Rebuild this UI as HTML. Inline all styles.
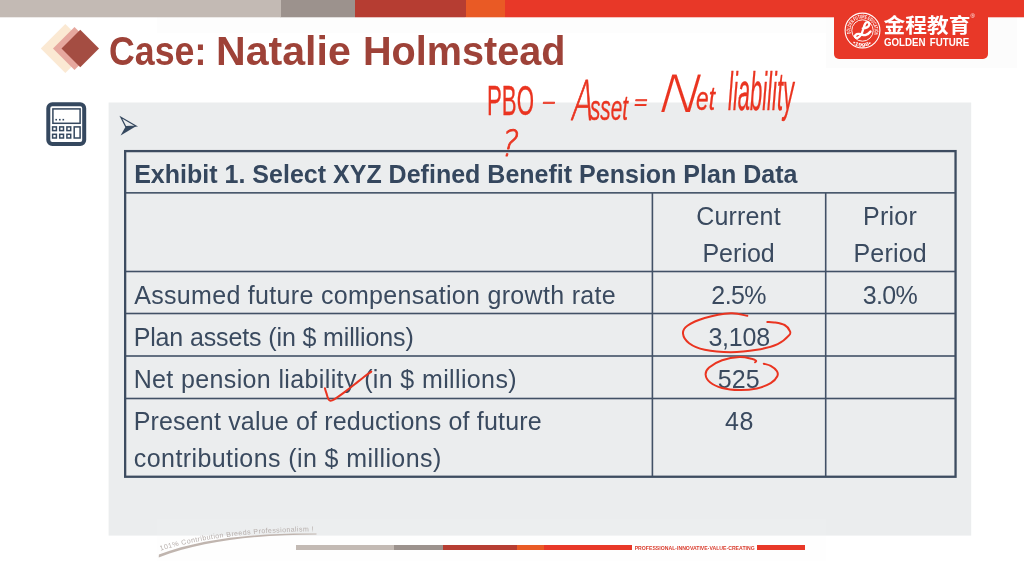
<!DOCTYPE html>
<html lang="en">
<head>
<meta charset="utf-8">
<title>Case: Natalie Holmstead</title>
<style>
*{margin:0;padding:0;box-sizing:border-box}
html,body{width:1024px;height:576px;overflow:hidden;background:#fff}
body{position:relative;font-family:"Liberation Sans","Noto Sans CJK SC",sans-serif;color:#3a4a5f}
.abs{position:absolute}
.bar{position:absolute;top:0;height:17px}
.hdrbg{position:absolute;left:157px;top:17px;width:860px;height:15.5px;background:#fdfdfd}
.hdrbg2{position:absolute;left:826px;top:17px;width:191px;height:51px;background:#fcfcfc}
.logo{position:absolute;left:834px;top:0;width:154px;height:58.5px;background:#e83828;border-radius:0 0 5px 5px}
.logo .cn{position:absolute;left:49.6px;top:13px;font-weight:bold;font-size:21.7px;line-height:26px;color:#fff;white-space:nowrap;transform:scaleY(.92);transform-origin:0 100%}
.logo .en{position:absolute;left:50.3px;top:37.1px;font-weight:bold;font-size:10.1px;line-height:11px;color:#fff;white-space:nowrap;word-spacing:1.6px;transform:scaleX(.963);transform-origin:0 0}
.logo .reg{position:absolute;left:136.6px;top:12.6px;font-size:6px;line-height:7px;color:#fff}
.title{position:absolute;left:0;top:28.7px;width:600px;height:46px;font-weight:bold;font-size:40.2px;line-height:46px;color:#9e4238;white-space:nowrap}
.title span{position:absolute;top:0;transform-origin:0 0;white-space:pre}
.t{position:absolute;font-size:25px;line-height:28px;white-space:nowrap;color:#3a4a5f}
.foot{position:absolute;left:157px;top:519px;width:669px;height:41.5px;background:rgba(250,250,250,.12)}
.fb{position:absolute;top:545.3px;height:4.9px}
</style>
</head>
<body>
<!-- top colour bar -->
<div class="bar" style="left:0;width:281px;background:#c3bab4"></div>
<div class="bar" style="left:280.5px;width:75px;background:#9c928d"></div>
<div class="bar" style="left:355px;width:111px;background:#b63d32"></div>
<div class="bar" style="left:465.5px;width:40px;background:#e95a25"></div>
<div class="bar" style="left:505px;width:519px;background:#e83828"></div>
<div class="hdrbg"></div><div class="hdrbg2"></div>
<div class="abs" style="left:0;top:17px;width:1024px;height:1px;opacity:.3;background:linear-gradient(90deg,#c3bab4 0 280.5px,#9c928d 280.5px 355px,#b63d32 355px 465.5px,#e95a25 465.5px 505px,#e83828 505px)"></div>

<!-- logo -->
<div class="logo">
  <svg class="abs" style="left:9px;top:10.6px" width="39" height="39" viewBox="-19.5 -19.5 39 39">
    <circle r="17.4" fill="none" stroke="#fff" stroke-width="1.1"/>
    <circle r="10.7" fill="none" stroke="#fff" stroke-width=".9"/>
    <path id="ringT" d="M-11.6 3.6A12.15 12.15 0 1 1 11.6 3.6" fill="none"/>
    <path id="ringB" d="M-10.2 12.7A16.3 16.3 0 0 0 10.2 12.7" fill="none"/>
    <text font-family="'Liberation Sans',sans-serif" font-weight="bold" font-size="5.2" fill="#fff"><textPath href="#ringT" textLength="45" lengthAdjust="spacingAndGlyphs" startOffset=".4">GOLDEN FUTURE EDUCATION</textPath></text>
    <text font-family="'Liberation Sans',sans-serif" font-weight="bold" font-size="5.2" fill="#fff"><textPath href="#ringB" textLength="20.5" lengthAdjust="spacingAndGlyphs">•1998•</textPath></text>
    <path d="M.3-2.2C3-2 6.6-3.6 6.8-6 7-8.6 4-9.2 2.6-6.6 1.2-4 .6.4-1.2 3.8-2.8 6.8-5.6 8.2-7 6.8-8.4 5.2-6.2 3-3.4 3.4-.6 3.8 1 5.2 3.4 4.4 5.4 3.8 7 2.4 8 1" fill="none" stroke="#fff" stroke-width="2.3" stroke-linecap="round" stroke-linejoin="round"/>
  </svg>
  <div class="cn">金程教育</div>
  <div class="reg">®</div>
  <div class="en">GOLDEN FUTURE</div>
</div>

<!-- title -->
<svg class="abs" style="left:38px;top:22px" width="64" height="54" viewBox="38 22 64 54">
  <polygon points="40.8,48.5 65.3,24 89.8,48.5 65.3,73" fill="#fbe9d3"/>
  <polygon points="53,48.5 74.5,27 96,48.5 74.5,70" fill="#e6a79e"/>
  <polygon points="61.5,48.5 80.25,29.8 99,48.5 80.25,67.2" fill="#a44d42"/>
</svg>
<div class="title"><span style="left:108.83px;transform:scaleX(.8888)">Case: </span><span style="left:216.35px;transform:scaleX(1.0223)">Natalie </span><span style="left:362.55px;transform:scaleX(.9857)">Holmstead</span></div>

<!-- calculator icon -->
<svg class="abs" style="left:44px;top:100px" width="46" height="50" viewBox="44 100 46 50">
  <rect x="48.3" y="104.3" width="35.9" height="39.6" rx="4" fill="#fff" stroke="#35485f" stroke-width="4"/>
  <rect x="52.9" y="108.9" width="27.2" height="14.4" fill="#fff" stroke="#35485f" stroke-width="1.5"/>
  <g fill="#35485f">
    <rect x="55.4" y="118.9" width="1.6" height="1.6"/><rect x="59" y="118.9" width="1.6" height="1.6"/><rect x="62.5" y="118.9" width="1.6" height="1.6"/>
  </g>
  <g fill="#fff" stroke="#35485f" stroke-width="1.5">
    <rect x="52.6" y="126.9" width="3.8" height="3.7"/><rect x="59.7" y="126.9" width="3.8" height="3.7"/><rect x="66.9" y="126.9" width="3.8" height="3.7"/>
    <rect x="52.6" y="134.3" width="3.8" height="3.7"/><rect x="59.7" y="134.3" width="3.8" height="3.7"/><rect x="66.9" y="134.3" width="3.8" height="3.7"/>
    <rect x="74.2" y="126.9" width="5.9" height="11.1"/>
  </g>
</svg>

<!-- content panel -->
<svg class="abs" style="left:0;top:0" width="1024" height="576" viewBox="0 0 1024 576"><rect x="108.6" y="102.5" width="862.6" height="433.1" fill="#ebedee"/></svg>
<svg class="abs" style="left:118px;top:114px" width="22" height="24" viewBox="118 114 22 24">
  <path d="M120.6 135.6L136.4 126.1 125.7 126.6Z" fill="#35485f"/>
  <path d="M120.9 117.2L136 126.1 125.7 126.6Z" fill="none" stroke="#35485f" stroke-width="1.2" stroke-linejoin="miter"/>
</svg>

<!-- table -->
<svg class="abs" style="left:0;top:0" width="1024" height="576" viewBox="0 0 1024 576">
  <rect x="125.15" y="151.1" width="830.4" height="325.65" fill="none" stroke="#3d4c60" stroke-width="2.3"/>
  <g fill="#425166">
    <rect x="126" y="192.05" width="829" height="1.6"/>
    <rect x="126" y="270.7" width="829" height="1.6"/>
    <rect x="126" y="312.7" width="829" height="1.6"/>
    <rect x="126" y="355.2" width="829" height="1.6"/>
    <rect x="126" y="397.7" width="829" height="1.6"/>
    <rect x="651.6" y="193" width="1.6" height="283"/>
    <rect x="824.9" y="193" width="1.6" height="283"/>
  </g>
</svg>

<div class="t" id="h1" style="left:134.13px;top:160.3px;letter-spacing:0.011px;font-weight:bold;color:#35475e">Exhibit 1. Select XYZ Defined Benefit Pension Plan Data</div>
<div class="t" id="c1a" style="left:696.17px;top:202.3px;letter-spacing:0.179px">Current</div>
<div class="t" id="c1b" style="left:702.44px;top:238.9px;letter-spacing:0.012px">Period</div>
<div class="t" id="c2a" style="left:862.94px;top:202.3px;letter-spacing:0.29px">Prior</div>
<div class="t" id="c2b" style="left:853.44px;top:238.9px;letter-spacing:0.212px">Period</div>
<div class="t" id="r3" style="left:134.24px;top:281.3px;letter-spacing:0.309px">Assumed future compensation growth rate</div>
<div class="t" id="r3b" style="left:711.33px;top:281.3px;letter-spacing:-0.578px">2.5%</div>
<div class="t" id="r3c" style="left:862.74px;top:281.3px;letter-spacing:-0.646px">3.0%</div>
<div class="t" id="r4" style="left:133.64px;top:323.3px;letter-spacing:-0.129px">Plan assets (in $ millions)</div>
<div class="t" id="r4b" style="left:708.44px;top:323.3px;letter-spacing:-0.235px">3,108</div>
<div class="t" id="r5" style="left:133.64px;top:365.3px;letter-spacing:0.371px">Net pension liability (in $ millions)</div>
<div class="t" id="r5b" style="left:717.7px;top:365.3px;letter-spacing:0.178px">525</div>
<div class="t" id="r6a" style="left:133.64px;top:407.3px;letter-spacing:0.177px">Present value of reductions of future</div>
<div class="t" id="r6b" style="left:133.86px;top:444.3px;letter-spacing:0.407px">contributions (in $ millions)</div>
<div class="t" id="r6c" style="left:724.92px;top:407.3px;letter-spacing:0.743px">48</div>

<!-- footer -->
<div class="foot"></div>
<div class="fb" style="left:295.5px;width:98.5px;background:#c3bab4"></div>
<div class="fb" style="left:393.5px;width:50px;background:#9c928d"></div>
<div class="fb" style="left:443.2px;width:74.5px;background:#b63d32"></div>
<div class="fb" style="left:517.4px;width:27px;background:#e95a25"></div>
<div class="fb" style="left:543.9px;width:88.4px;background:#e83828"></div>
<div class="fb" style="left:757px;width:48.3px;background:#e83828"></div>
<svg class="abs" style="left:150px;top:515px" width="620" height="50" viewBox="150 515 620 50">
  <path id="arc" d="M160.6 550.7C203 537.5 258 531.6 318 531.2" fill="none"/>
  <path d="M158.7 557.5C203 540.5 260 534.6 316.5 534.4L316.5 533.5C260 532.9 203 537.8 158.9 554.5Z" fill="#c0b5af"/>
  <text font-family="'Liberation Sans',sans-serif" font-size="7" fill="#b6aeab"><textPath href="#arc" textLength="155" lengthAdjust="spacing">101% Contribution Breeds Professionalism !</textPath></text>
  <text x="634.7" y="549.75" font-family="'Liberation Sans',sans-serif" font-weight="bold" font-size="5.6" fill="#d93a2b" textLength="120" lengthAdjust="spacingAndGlyphs">PROFESSIONAL·INNOVATIVE·VALUE·CREATING</text>
</svg>

<!-- red pen annotations -->
<svg class="abs" style="left:0;top:0" width="1024" height="576" viewBox="0 0 1024 576" fill="none" stroke="#ea3420" stroke-width="2" stroke-linecap="round" stroke-linejoin="round">
  <path d="M747.3 315.8C744.5 315.4 737.9 312.9 730.8 313.3C723.7 313.7 711.9 315.9 704.7 318.0C697.5 320.1 691.0 323.2 687.4 325.8C683.8 328.4 682.7 330.8 683.0 333.7C683.3 336.6 685.5 340.5 689.1 343.2C692.7 345.9 697.8 348.3 704.7 349.8C711.7 351.3 722.1 352.2 730.8 352.2C739.5 352.2 749.1 351.1 756.9 349.8C764.7 348.5 772.4 346.5 777.7 344.1C783.1 341.7 787.0 337.6 789.0 335.4C791.0 333.2 790.6 332.8 789.9 331.1C789.2 329.4 787.2 326.4 784.6 325.0C782.0 323.6 777.1 322.9 774.2 322.4C771.3 321.9 768.4 322.1 767.3 322.0"/>
  <path d="M755.1 362.3C755.2 362.0 756.6 361.2 756.0 360.6C755.4 360.0 754.4 359.4 751.6 358.8C748.9 358.2 744.4 356.9 739.5 357.1C734.6 357.3 727.2 358.5 722.1 360.2C717.0 361.9 711.9 365.1 709.1 367.5C706.4 369.9 705.5 372.0 705.6 374.5C705.8 377.0 707.2 380.1 710.0 382.3C712.8 384.6 717.2 386.7 722.1 388.0C727.0 389.3 733.7 390.0 739.5 390.1C745.3 390.2 751.7 389.5 756.9 388.4C762.1 387.2 767.3 385.2 770.7 383.2C774.1 381.2 776.3 378.2 777.3 376.2C778.3 374.2 777.9 372.7 776.8 371.0C775.7 369.3 772.9 367.0 770.7 365.8C768.5 364.6 764.9 364.1 763.8 363.7"/>
  <path d="M324.9 388.2C325.1 389.0 325.8 391.3 326.4 393.1C327.0 394.9 327.6 397.6 328.3 398.9C329.0 400.2 329.3 400.6 330.3 400.7C331.3 400.8 331.9 400.8 334.2 399.4C336.5 398.0 340.5 395.1 343.9 392.6C347.3 390.1 351.3 387.0 354.7 384.3C358.1 381.6 361.7 378.6 364.5 376.5C367.3 374.4 370.2 372.4 371.3 371.6"/>
  <text fill="#ea3420" stroke="#ea3420" stroke-width=".35" stroke-linejoin="round" font-family="'Liberation Sans',sans-serif" font-style="italic"><tspan x="487" y="115" font-size="43" textLength="47" lengthAdjust="spacingAndGlyphs" font-style="normal">PBO</tspan> <tspan x="540" y="110.5" font-size="30" textLength="14" lengthAdjust="spacingAndGlyphs" font-family="'DejaVu Sans Light','DejaVu Sans',sans-serif" font-weight="200" font-style="oblique" stroke-width=".8">–</tspan> <tspan x="570" y="119.5" font-size="55" textLength="22" lengthAdjust="spacingAndGlyphs" font-family="'DejaVu Sans Light','DejaVu Sans',sans-serif" font-weight="200" font-style="oblique" stroke-width=".9">A</tspan><tspan x="590" y="120" font-size="35" textLength="38" lengthAdjust="spacingAndGlyphs">sset</tspan> <tspan x="632" y="112" font-size="30" textLength="15" lengthAdjust="spacingAndGlyphs" font-family="'DejaVu Sans Light','DejaVu Sans',sans-serif" font-weight="200" font-style="oblique" stroke-width=".9">=</tspan> <tspan x="654" y="112" font-size="51" textLength="45" lengthAdjust="spacingAndGlyphs" font-family="'DejaVu Sans Light','DejaVu Sans',sans-serif" font-weight="200" font-style="oblique" stroke-width=".1">N</tspan><tspan x="696" y="110" font-size="34" textLength="19" lengthAdjust="spacingAndGlyphs">et</tspan> <tspan x="728" y="109.5" font-size="53" textLength="66" lengthAdjust="spacingAndGlyphs">liability</tspan> <tspan x="499" y="156" font-size="36" textLength="17" lengthAdjust="spacingAndGlyphs" font-family="'DejaVu Sans Light','DejaVu Sans',sans-serif" font-weight="200" font-style="oblique" stroke-width=".9">?</tspan></text>
</svg>
</body>
</html>
